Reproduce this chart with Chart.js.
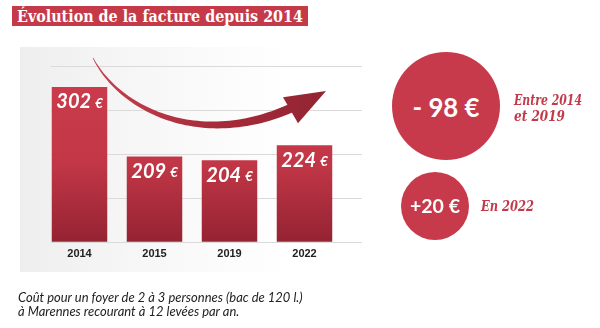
<!DOCTYPE html>
<html><head><meta charset="utf-8">
<script src="https://cdn.jsdelivr.net/npm/chart.js@4"></script>
<style>
html,body{margin:0;padding:0;background:#fff;}
#wrap{position:relative;width:600px;height:328px;overflow:hidden;background:#fff;}
#panel{position:absolute;left:20px;top:47px;width:360px;height:225px;background:linear-gradient(to right,#eeeeee 0%,#f6f6f6 30%,#ffffff 75%);}
#c{position:absolute;left:0;top:0;}
#title{position:absolute;left:12px;top:6px;width:296px;height:20px;background:#c53a49;overflow:hidden}
#title span{position:absolute;left:5px;top:0;line-height:20px;color:#fff;font:bold 17px "DejaVu Serif";white-space:nowrap;transform-origin:0 50%}
.circle{position:absolute;border-radius:50%;background:#c73a4b;color:#fff;display:flex;align-items:center;justify-content:center;}
.circle span{font-family:Lato;font-weight:bold;white-space:nowrap;display:inline-block;line-height:1}
.note{position:absolute;color:#c23a4a;font:italic bold 14px "DejaVu Serif";white-space:nowrap;line-height:16px}
.note span{display:inline-block;transform-origin:0 50%}
.foot{position:absolute;left:18px;font:italic 12px Lato;color:#222;line-height:14px;white-space:nowrap}
.foot span{display:inline-block}
</style>
</head><body>
<div id="wrap">
  <div id="panel"></div>
  <canvas id="c" width="600" height="328"></canvas>
  <div id="title"><span id="titleText"></span></div>
  <div class="circle" id="bigC" style="left:392px;top:52px;width:108px;height:108px;padding-top:3px;box-sizing:border-box"><span id="bigT"></span></div>
  <div class="circle" id="smallC" style="left:401px;top:172px;width:68px;height:68px"><span id="smallT"></span></div>
  <div class="note" style="left:514px;top:92px"><span id="note1a"></span><br><span id="note1b"></span></div>
  <div class="note" style="left:481px;top:198px"><span id="note2"></span></div>
  <div class="foot" style="top:290px"><span id="foot1"></span></div>
  <div class="foot" style="top:304px"><span id="foot2"></span></div>
</div>
<script>
// ---- data ----
const titleText = 'Évolution de la facture depuis 2014';
const categories = ['2014', '2015', '2019', '2022'];
const costValues = [302, 209, 204, 224];
const yAxisMin = 95;
const yAxisMax = 330;
const gridValues = [95, 153.75, 212.5, 271.25, 330];
const noteTexts = ['Entre 2014', 'et 2019', 'En 2022'];
const footLines = ['Coût pour un foyer de 2 à 3 personnes (bac de 120 l.)', 'à Marennes recourant à 12 levées par an.'];

// derived summary values
const dropValue = costValues[2] - costValues[0];   // -98
const riseValue = costValues[3] - costValues[2];   // +20

document.getElementById('titleText').textContent = titleText;
document.getElementById('bigT').textContent = '- ' + Math.abs(dropValue) + ' €';
document.getElementById('smallT').textContent = '+' + riseValue + ' €';
document.getElementById('note1a').textContent = noteTexts[0];
document.getElementById('note1b').textContent = noteTexts[1];
document.getElementById('note2').textContent = noteTexts[2];
document.getElementById('foot1').textContent = footLines[0];
document.getElementById('foot2').textContent = footLines[1];

function fitFont(id, target) {
  const el = document.getElementById(id);
  const w = el.getBoundingClientRect().width;
  const fs = parseFloat(getComputedStyle(el).fontSize);
  if (w > 0) el.style.fontSize = (fs * target / w) + 'px';
}
function fitScale(id, target) {
  const el = document.getElementById(id);
  const w = el.getBoundingClientRect().width;
  if (w > 0) el.style.transform = 'scaleX(' + (target / w) + ')';
}
function fitAll() {
  fitScale('titleText', 286);
  fitFont('bigT', 67);
  fitFont('smallT', 50);
  fitScale('note1a', 68);
  fitScale('note1b', 51);
  fitScale('note2', 53);
  fitFont('foot1', 285);
  const f1 = document.getElementById('foot1').style.fontSize;
  document.getElementById('foot2').style.fontSize = f1;
}
fitAll();
if (document.fonts && document.fonts.ready) document.fonts.ready.then(() => {
  ['titleText','note1a','note1b','note2'].forEach(id => document.getElementById(id).style.transform = '');
  ['bigT','smallT','foot1','foot2'].forEach(id => document.getElementById(id).style.fontSize = '');
  fitAll();
});

// ---- plugins ----
const gridPlugin = {
  id: 'gridPlugin',
  beforeDatasetsDraw(chart) {
    const { ctx, chartArea: ca, scales: { y } } = chart;
    ctx.save();
    ctx.strokeStyle = '#dadada';
    ctx.lineWidth = 1;
    gridValues.forEach(v => {
      const py = Math.round(y.getPixelForValue(v)) + 0.5;
      ctx.beginPath();
      ctx.moveTo(ca.left + 9, py);
      ctx.lineTo(ca.right + 20, py);
      ctx.stroke();
    });
    ctx.restore();
  }
};

const labelPlugin = {
  id: 'labelPlugin',
  afterDatasetsDraw(chart) {
    const { ctx } = chart;
    const meta = chart.getDatasetMeta(0);
    ctx.save();
    ctx.fillStyle = '#ffffff';
    ctx.textBaseline = 'middle';
    ctx.textAlign = 'left';
    meta.data.forEach((bar, i) => {
      const num = String(costValues[i]);
      const bigFont = 'italic bold 20px Lato';
      const smallFont = 'italic bold 13px Lato';
      ctx.font = bigFont;
      const w1 = ctx.measureText(num).width;
      ctx.font = smallFont;
      const w2 = ctx.measureText('€').width;
      const gap = 4;
      const total = w1 + gap + w2;
      const x0 = bar.x - total / 2;
      const yc = bar.y + 15;
      ctx.font = bigFont;
      ctx.fillText(num, x0, yc);
      ctx.font = smallFont;
      ctx.fillText('€', x0 + w1 + gap, yc + 1.5);
    });
    ctx.restore();
  }
};

const arrowPlugin = {
  id: 'arrowPlugin',
  afterDatasetsDraw(chart) {
    const { ctx, chartArea: ca } = chart;
    const sx = (ca.right - ca.left) / 300, sy = (ca.bottom - ca.top) / 175;
    const P = (x, y) => ({ x: ca.left + (x - 42) * sx, y: ca.top + (y - 66) * sy });
    const p0 = P(93, 58), c1 = P(120, 110), c2 = P(200, 148), p3 = P(291, 108);
    const bez = (t, a, b, c, d) => (1 - t) ** 3 * a + 3 * (1 - t) ** 2 * t * b + 3 * (1 - t) * t * t * c + t ** 3 * d;
    const dbez = (t, a, b, c, d) => 3 * (1 - t) ** 2 * (b - a) + 6 * (1 - t) * t * (c - b) + 3 * t * t * (d - c);
    const N = 60, upper = [], lower = [];
    for (let i = 0; i <= N; i++) {
      const t = i / N;
      const x = bez(t, p0.x, c1.x, c2.x, p3.x), y = bez(t, p0.y, c1.y, c2.y, p3.y);
      let dx = dbez(t, p0.x, c1.x, c2.x, p3.x), dy = dbez(t, p0.y, c1.y, c2.y, p3.y);
      const l = Math.hypot(dx, dy); dx /= l; dy /= l;
      const w = (0.6 + 8.5 * Math.pow(t, 0.9)) / 2;
      upper.push({ x: x + dy * w, y: y - dx * w });
      lower.push({ x: x - dy * w, y: y + dx * w });
    }
    const g = ctx.createLinearGradient(p0.x, 0, P(326, 0).x, 0);
    g.addColorStop(0, '#c8404f');
    g.addColorStop(0.5, '#a82c3b');
    g.addColorStop(1, '#922432');
    ctx.save();
    ctx.fillStyle = g;
    ctx.beginPath();
    upper.forEach((p, i) => i ? ctx.lineTo(p.x, p.y) : ctx.moveTo(p.x, p.y));
    for (let i = lower.length - 1; i >= 0; i--) ctx.lineTo(lower[i].x, lower[i].y);
    ctx.closePath();
    ctx.fill();
    const h1 = P(283, 97), tip = P(326, 91), h2 = P(298, 123);
    ctx.beginPath();
    ctx.moveTo(h1.x, h1.y);
    ctx.lineTo(tip.x, tip.y);
    ctx.lineTo(h2.x, h2.y);
    ctx.closePath();
    ctx.fill();
    ctx.restore();
  }
};

new Chart(document.getElementById('c'), {
  type: 'bar',
  data: {
    labels: categories,
    datasets: [{
      data: costValues,
      backgroundColor(context) {
        const ca = context.chart.chartArea;
        if (!ca) return '#c43848';
        const g = context.chart.ctx.createLinearGradient(0, ca.bottom, 0, ca.top);
        g.addColorStop(0, '#952332');
        g.addColorStop(0.45, '#c23747');
        g.addColorStop(1, '#cc3c4c');
        return g;
      },
      borderWidth: 0,
      categoryPercentage: 1,
      barPercentage: 0.74
    }]
  },
  options: {
    responsive: false,
    devicePixelRatio: 1,
    animation: false,
    layout: { padding: { left: 42, right: 258, top: 66, bottom: 61 } },
    plugins: { legend: { display: false }, tooltip: { enabled: false }, title: { display: false } },
    scales: {
      x: {
        grid: { display: false, drawTicks: false },
        border: { display: false },
        ticks: { color: '#222', font: { family: 'Liberation Sans', weight: 'bold', size: 11 }, padding: 6 }
      },
      y: { display: false, min: yAxisMin, max: yAxisMax }
    }
  },
  plugins: [gridPlugin, arrowPlugin, labelPlugin]
});
</script>
</body></html>
